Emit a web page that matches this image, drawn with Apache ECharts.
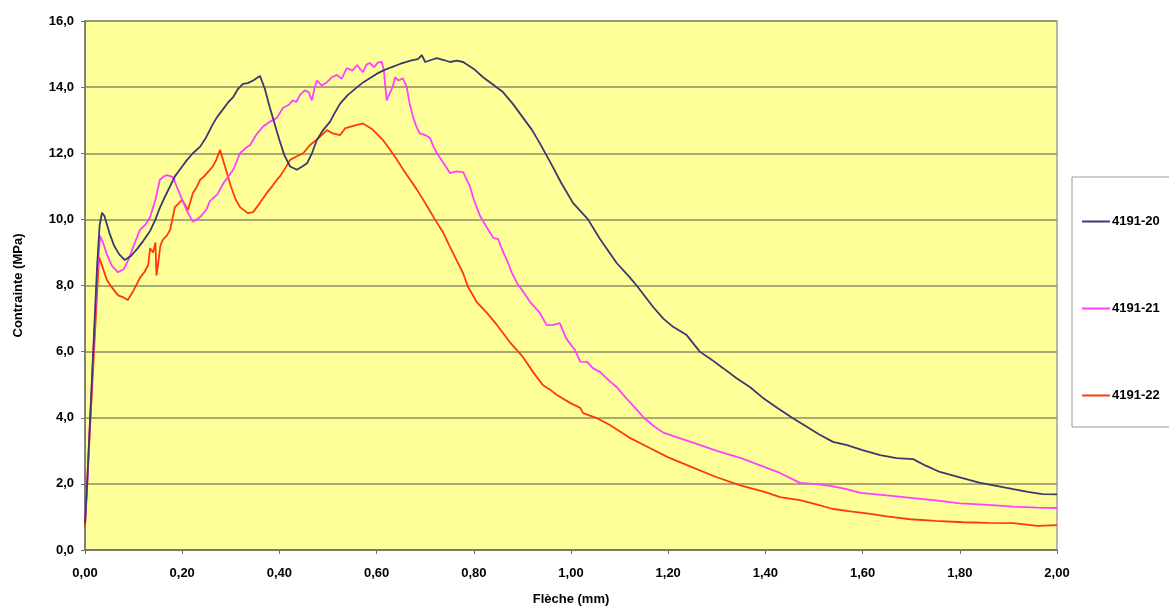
<!DOCTYPE html>
<html>
<head>
<meta charset="utf-8">
<script src="https://cdn.jsdelivr.net/npm/echarts@6/dist/echarts.min.js"></script>
<style>
  html, body { margin: 0; padding: 0; background: #fff; }
  #chart { width: 1169px; height: 608px; }
</style>
</head>
<body>
<div id="chart"></div>
<script>
	// noms des essais
	var names = ['4191-20', '4191-21', '4191-22'];
	var colors = ['#3a3a6e', '#ff40ff', '#ff3a0a'];

	// [Flèche (mm), Contrainte (MPa)]
	var serie20 = [
		[0,0.8],[0.005,2.2],[0.01,3.8],[0.015,5.4],[0.02,7.0],[0.025,8.6],[0.03,9.8],[0.035,10.2],[0.04,10.1],[0.05,9.6],
		[0.06,9.2],[0.07,8.95],[0.082,8.77],[0.095,8.9],[0.107,9.1],[0.12,9.35],[0.134,9.65],[0.145,10.0],[0.154,10.35],
		[0.165,10.7],[0.175,11.0],[0.185,11.3],[0.195,11.5],[0.21,11.8],[0.222,12.0],[0.237,12.2],[0.25,12.5],[0.262,12.85],
		[0.272,13.1],[0.285,13.35],[0.295,13.55],[0.305,13.7],[0.315,13.95],[0.325,14.1],[0.335,14.12],[0.346,14.2],[0.36,14.34],
		[0.37,13.95],[0.38,13.4],[0.39,12.9],[0.40,12.4],[0.41,11.95],[0.422,11.6],[0.436,11.5],[0.447,11.6],[0.457,11.7],
		[0.467,12.0],[0.477,12.4],[0.49,12.7],[0.504,12.95],[0.515,13.25],[0.525,13.5],[0.54,13.75],[0.56,14.0],[0.573,14.15],
		[0.586,14.27],[0.6,14.4],[0.613,14.5],[0.63,14.6],[0.648,14.7],[0.67,14.8],[0.685,14.85],[0.693,14.97],[0.70,14.76],
		[0.712,14.82],[0.724,14.88],[0.738,14.82],[0.751,14.76],[0.765,14.8],[0.778,14.76],[0.80,14.55],[0.819,14.3],[0.84,14.07],
		[0.86,13.85],[0.88,13.5],[0.9,13.1],[0.92,12.7],[0.936,12.3],[0.957,11.74],[0.98,11.1],[1.004,10.5],[1.035,10.0],
		[1.06,9.4],[1.094,8.68],[1.12,8.26],[1.135,8.0],[1.169,7.35],[1.19,7.0],[1.21,6.75],[1.238,6.5],[1.265,6.0],[1.29,5.75],
		[1.313,5.5],[1.34,5.2],[1.368,4.93],[1.395,4.6],[1.424,4.3],[1.455,4.0],[1.486,3.72],[1.51,3.5],[1.539,3.27],[1.568,3.17],
		[1.6,3.02],[1.636,2.87],[1.67,2.78],[1.704,2.75],[1.73,2.55],[1.759,2.36],[1.8,2.2],[1.842,2.03],[1.875,1.94],[1.91,1.84],
		[1.94,1.76],[1.97,1.69],[2.0,1.68]
	];
	var serie21 = [
		[0,0.8],[0.005,2.2],[0.01,3.8],[0.015,5.3],[0.02,6.8],[0.025,8.3],[0.031,9.5],[0.037,9.3],[0.045,8.95],[0.055,8.6],
		[0.068,8.4],[0.08,8.5],[0.09,8.8],[0.1,9.2],[0.113,9.68],[0.125,9.85],[0.134,10.07],[0.145,10.6],[0.154,11.2],[0.162,11.3],
		[0.169,11.34],[0.181,11.28],[0.19,10.95],[0.2,10.59],[0.21,10.25],[0.222,9.93],[0.23,10.0],[0.237,10.07],[0.25,10.3],
		[0.257,10.55],[0.272,10.75],[0.285,11.1],[0.295,11.3],[0.305,11.5],[0.319,12.0],[0.33,12.15],[0.34,12.25],[0.352,12.55],
		[0.366,12.8],[0.38,12.95],[0.395,13.07],[0.407,13.37],[0.418,13.45],[0.428,13.6],[0.435,13.55],[0.442,13.76],[0.452,13.9],
		[0.46,13.85],[0.467,13.6],[0.472,13.95],[0.477,14.2],[0.487,14.05],[0.498,14.15],[0.508,14.3],[0.518,14.37],[0.528,14.25],
		[0.539,14.58],[0.55,14.5],[0.56,14.67],[0.566,14.55],[0.572,14.45],[0.579,14.68],[0.586,14.73],[0.595,14.6],[0.603,14.75],
		[0.611,14.76],[0.615,14.5],[0.618,14.0],[0.621,13.6],[0.625,13.75],[0.628,13.7],[0.633,14.0],[0.638,14.3],[0.645,14.2],
		[0.654,14.27],[0.662,14.0],[0.668,13.5],[0.675,13.1],[0.682,12.8],[0.689,12.6],[0.7,12.55],[0.71,12.46],[0.717,12.2],
		[0.724,12.0],[0.738,11.7],[0.751,11.4],[0.765,11.45],[0.778,11.43],[0.792,11.0],[0.80,10.6],[0.813,10.1],[0.825,9.8],
		[0.84,9.44],[0.85,9.4],[0.858,9.1],[0.868,8.77],[0.878,8.4],[0.889,8.07],[0.9,7.85],[0.916,7.5],[0.936,7.17],[0.95,6.8],
		[0.962,6.8],[0.977,6.86],[0.99,6.4],[1.008,6.05],[1.019,5.7],[1.033,5.69],[1.045,5.5],[1.06,5.38],[1.08,5.1],[1.094,4.93],
		[1.113,4.6],[1.132,4.3],[1.15,4.0],[1.17,3.75],[1.19,3.55],[1.22,3.4],[1.26,3.2],[1.30,3.0],[1.35,2.78],[1.40,2.5],
		[1.43,2.33],[1.471,2.03],[1.5,2.0],[1.533,1.94],[1.565,1.85],[1.595,1.73],[1.65,1.65],[1.704,1.57],[1.75,1.5],[1.8,1.41],
		[1.85,1.37],[1.91,1.31],[1.96,1.28],[2.0,1.27]
	];
	var serie22 = [
		[0,0.7],[0.005,2.1],[0.01,3.6],[0.015,5.0],[0.02,6.4],[0.025,7.8],[0.029,8.86],[0.035,8.6],[0.045,8.17],[0.055,7.95],
		[0.068,7.7],[0.078,7.65],[0.088,7.56],[0.1,7.85],[0.113,8.23],[0.122,8.4],[0.13,8.62],[0.134,9.13],[0.14,9.0],[0.145,9.3],
		[0.147,8.3],[0.15,8.6],[0.155,9.2],[0.16,9.38],[0.168,9.5],[0.175,9.68],[0.185,10.37],[0.2,10.59],[0.212,10.28],[0.222,10.8],
		[0.23,10.98],[0.237,11.2],[0.245,11.3],[0.251,11.4],[0.263,11.6],[0.27,11.8],[0.278,12.1],[0.29,11.5],[0.30,11.0],[0.31,10.6],
		[0.319,10.37],[0.335,10.19],[0.346,10.22],[0.36,10.5],[0.374,10.8],[0.385,11.0],[0.395,11.2],[0.401,11.3],[0.412,11.55],
		[0.422,11.8],[0.435,11.9],[0.449,12.0],[0.463,12.25],[0.48,12.45],[0.498,12.7],[0.51,12.6],[0.525,12.55],[0.535,12.75],
		[0.545,12.8],[0.558,12.85],[0.572,12.9],[0.583,12.8],[0.593,12.7],[0.613,12.4],[0.628,12.1],[0.642,11.8],[0.655,11.5],
		[0.669,11.2],[0.683,10.9],[0.696,10.59],[0.708,10.3],[0.72,10.0],[0.737,9.6],[0.751,9.17],[0.765,8.75],[0.778,8.37],
		[0.788,7.96],[0.806,7.5],[0.827,7.17],[0.848,6.8],[0.874,6.29],[0.901,5.84],[0.922,5.38],[0.942,4.99],[0.957,4.85],
		[0.971,4.69],[0.998,4.45],[1.019,4.3],[1.025,4.14],[1.053,3.99],[1.08,3.78],[1.12,3.4],[1.16,3.1],[1.20,2.8],[1.25,2.5],
		[1.30,2.2],[1.35,1.95],[1.40,1.75],[1.43,1.6],[1.471,1.51],[1.505,1.38],[1.539,1.24],[1.575,1.17],[1.609,1.11],[1.65,1.02],
		[1.698,0.93],[1.75,0.88],[1.807,0.84],[1.86,0.82],[1.91,0.81],[1.96,0.73],[2.0,0.75]
	];
	var series = [serie20, serie21, serie22];

	var myEchart = echarts.init(document.getElementById('chart'));
	var option = {
		animation: false,
		color: colors,
		textStyle: { fontFamily: 'Liberation Sans, Arial, sans-serif' },
		grid: {
			left: 85, top: 21, right: 112, bottom: 58,
			outerBoundsMode: 'none',
			containLabel: false,
			show: true,
			backgroundColor: '#ffff99',
			borderColor: '#a0a0a0',
			borderWidth: 1.5
		},
		legend: {
			orient: 'vertical',
			left: 1072,
			top: 177,
			data: names,
			icon: 'rect',
			itemWidth: 28,
			itemHeight: 2,
			itemGap: 74,
			padding: [38, 40, 25, 10],
			backgroundColor: '#ffffff',
			borderColor: '#999999',
			borderWidth: 1,
			textStyle: { fontSize: 13, fontWeight: 'bold', color: '#000', padding: [0, 0, 0, -3] }
		},
		xAxis: {
			type: 'value',
			min: 0, max: 2, interval: 0.2,
			name: 'Flèche (mm)',
			nameLocation: 'middle',
			nameGap: 43,
			nameTextStyle: { fontSize: 13, fontWeight: 'bold', color: '#000' },
			axisLine: { show: true, lineStyle: { color: '#707070', width: 1.5 } },
			axisTick: { show: true, length: 4, lineStyle: { color: '#707070' } },
			axisLabel: {
				fontSize: 13, fontWeight: 'bold', color: '#000', margin: 17,
				formatter: function (v) { return v.toFixed(2).replace('.', ','); }
			},
			splitLine: { show: false }
		},
		yAxis: {
			type: 'value',
			min: 0, max: 16, interval: 2,
			name: 'Contrainte (MPa)',
			nameLocation: 'middle',
			nameGap: 60,
			nameTextStyle: { fontSize: 13, fontWeight: 'bold', color: '#000' },
			axisLine: { show: true, lineStyle: { color: '#707070', width: 1.5 } },
			axisTick: { show: true, length: 4, lineStyle: { color: '#707070' } },
			axisLabel: {
				fontSize: 13, fontWeight: 'bold', color: '#000', margin: 11,
				formatter: function (v) { return v.toFixed(1).replace('.', ','); }
			},
			splitLine: { show: true, lineStyle: { color: '#8c8c66', width: 1.5 } }
		},
		series: names.map(function (n, i) {
			return {
				name: n,
				type: 'line',
				data: series[i],
				symbol: 'none',
				lineStyle: { width: 1.8, color: colors[i] },
				z: 3 - i
			};
		})
	};
	myEchart.setOption(option);
</script>
</body>
</html>
